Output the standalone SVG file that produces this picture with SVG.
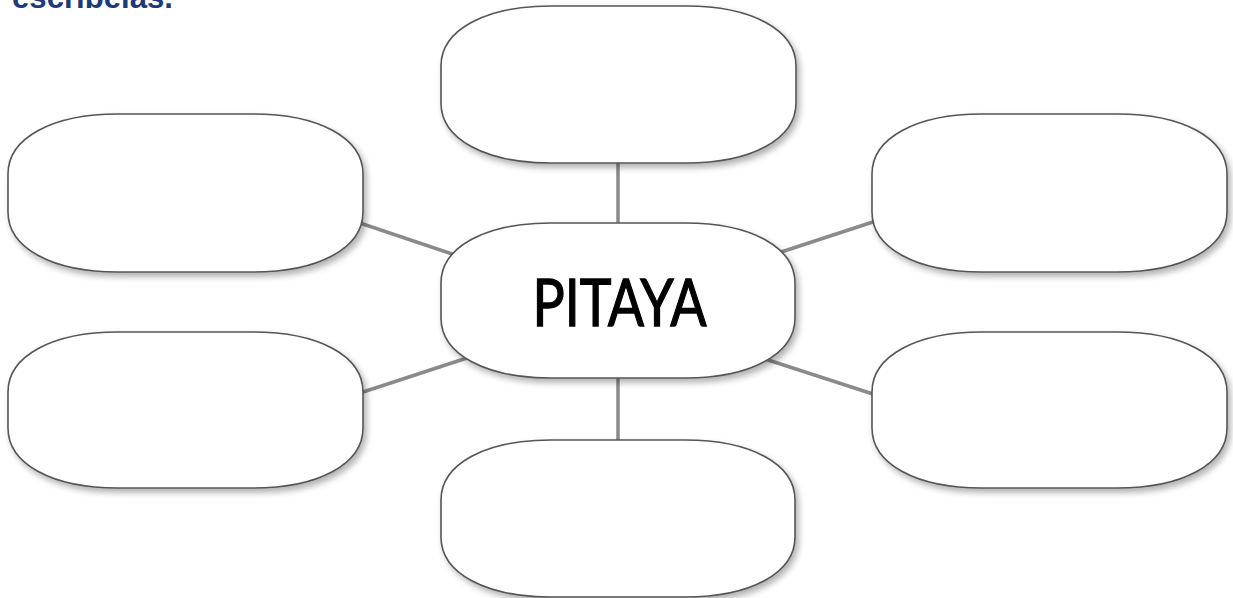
<svg xmlns="http://www.w3.org/2000/svg" width="1233" height="598" viewBox="0 0 1233 598">
<defs>
<filter id="sh" x="-10%" y="-10%" width="125%" height="130%">
<feDropShadow dx="3" dy="4" stdDeviation="3" flood-color="#000" flood-opacity="0.3"/>
</filter>
</defs>
<style>
.box{fill:#fff;stroke:#555;stroke-width:1.6;filter:url(#sh)}
.con{stroke:#8a8a8a;stroke-width:3.5;fill:none}
.hdr{font-family:"Liberation Sans",Arial,sans-serif;font-weight:bold;font-size:31px;fill:#1F3A7A}
.lbl{font-family:Lato,"Open Sans",sans-serif;font-size:66px;fill:#000;stroke:#000;stroke-width:1.3}
</style>
<rect width="1233" height="598" fill="#fff"/>
<text class="hdr" x="12" y="8" textLength="161" lengthAdjust="spacingAndGlyphs">escríbelas.</text>
<g id="connectors">
<line class="con" x1="618" y1="160" x2="618" y2="226"/>
<line class="con" x1="618" y1="375" x2="618" y2="443"/>
<line class="con" x1="357" y1="222" x2="458" y2="256"/>
<line class="con" x1="360" y1="393" x2="470" y2="357"/>
<line class="con" x1="775" y1="254" x2="879" y2="220"/>
<line class="con" x1="765" y1="359" x2="876" y2="395"/>
</g>
<g id="node-top"><path class="box" d="M551,6 H686 C752,6 796,30 796,66 V103 C796,139 752,163 686,163 H551 C485,163 441,139 441,103 V66 C441,30 485,6 551,6 Z"/></g>
<g id="node-left-top"><path class="box" d="M118,114 H253 C319,114 363,138 363,174 V212 C363,248 319,272 253,272 H118 C52,272 8,248 8,212 V174 C8,138 52,114 118,114 Z"/></g>
<g id="node-right-top"><path class="box" d="M982,114 H1117 C1183,114 1227,138 1227,174 V212 C1227,248 1183,272 1117,272 H982 C916,272 872,248 872,212 V174 C872,138 916,114 982,114 Z"/></g>
<g id="node-left-bottom"><path class="box" d="M118,332 H253 C319,332 363,356 363,392 V428 C363,464 319,488 253,488 H118 C52,488 8,464 8,428 V392 C8,356 52,332 118,332 Z"/></g>
<g id="node-right-bottom"><path class="box" d="M982,332 H1117 C1183,332 1227,356 1227,392 V428 C1227,464 1183,488 1117,488 H982 C916,488 872,464 872,428 V392 C872,356 916,332 982,332 Z"/></g>
<g id="node-bottom"><path class="box" d="M551,440 H685 C751,440 795,464 795,500 V537 C795,573 751,597 685,597 H551 C485,597 441,573 441,537 V500 C441,464 485,440 551,440 Z"/></g>
<g id="node-center"><path class="box" d="M551,223 H685 C751,223 795,247 795,283 V318 C795,354 751,378 685,378 H551 C485,378 441,354 441,318 V283 C441,247 485,223 551,223 Z"/>
<text class="lbl" x="619.5" y="326" text-anchor="middle" textLength="174" lengthAdjust="spacingAndGlyphs">PITAYA</text></g>
</svg>
